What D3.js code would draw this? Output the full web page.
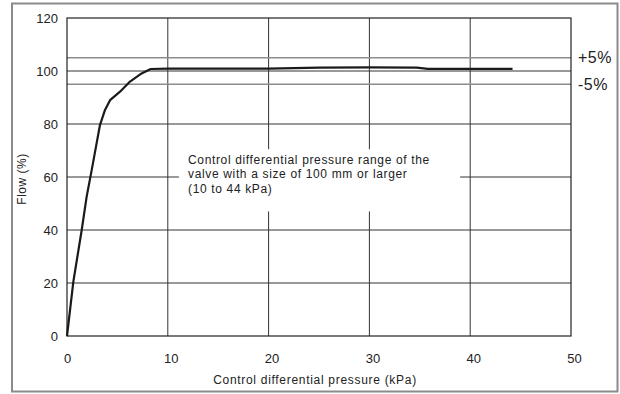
<!DOCTYPE html>
<html><head><meta charset="utf-8">
<script src="https://cdn.jsdelivr.net/npm/d3@7"></script>
<style>body{margin:0;background:#fff}svg{display:block}text{font-family:"Liberation Sans",Arial,sans-serif;fill:#222}</style>
</head><body><svg id="c" width="620" height="394"></svg>
<script>
const pressure = [0, 0.63, 1.46, 1.95, 2.45, 2.94, 3.27, 3.77, 4.27, 5.26, 6.25, 7.4, 8.3, 10, 20, 25, 30, 34.7, 35.8, 44.2];
const flow     = [0, 20.5, 40, 52.6, 62.6, 72.8, 79.6, 85.3, 89, 92.2, 96, 99.1, 100.75, 100.9, 100.9, 101.3, 101.4, 101.3, 100.8, 100.8];
const xTicks = [0, 10, 20, 30, 40, 50];
const yTicks = [0, 20, 40, 60, 80, 100, 120];
const tolLines = [105, 95];
const tolLabels = ["+5%", "-5%"];
const noteLines = ["Control differential pressure range of the", "valve with a size of 100 mm or larger", "(10 to 44 kPa)"];

const svg = d3.select("#c");
const L = 67, R = 571, T = 18, B = 336;
const x = d3.scaleLinear().domain([0, 50]).range([L, R]);
const y = d3.scaleLinear().domain([0, 120]).range([B, T]);

// outer frame
svg.append("rect").attr("x", 12).attr("y", 3.5).attr("width", 605.5).attr("height", 388)
  .attr("fill", "none").attr("stroke", "#8a8a8a").attr("stroke-width", 2);

// grid
const g = svg.append("g");
g.selectAll(".vg").data(xTicks.slice(1, -1)).join("line")
  .attr("x1", d => x(d)).attr("x2", d => x(d)).attr("y1", T).attr("y2", B)
  .attr("stroke", "#333").attr("stroke-width", 1);
g.selectAll(".hg").data(yTicks.slice(1, -1)).join("line")
  .attr("x1", L).attr("x2", R).attr("y1", d => y(d)).attr("y2", d => y(d))
  .attr("stroke", "#333").attr("stroke-width", 1);
g.selectAll(".tl").data(tolLines).join("line")
  .attr("x1", L).attr("x2", R).attr("y1", d => y(d)).attr("y2", d => y(d))
  .attr("stroke", "#8c8c8c").attr("stroke-width", 1.3);

// note box (white background interrupts the grid)
svg.append("rect").attr("x", x(11.1)).attr("y", y(70.5)).attr("width", x(39) - x(11.1)).attr("height", y(47) - y(70.5)).attr("fill", "#fff");
svg.append("g").selectAll("text").data(noteLines).join("text")
  .attr("x", 188).attr("y", (d, i) => 163.5 + i * 14.8)
  .attr("font-size", 12).attr("letter-spacing", 0.65).text(d => d);

// plot border
svg.append("rect").attr("x", L).attr("y", T).attr("width", R - L).attr("height", B - T)
  .attr("fill", "none").attr("stroke", "#222").attr("stroke-width", 1.2);

// axes labels
const ax = d3.axisBottom(x).tickValues(xTicks).tickSize(0).tickPadding(0);
const xa = svg.append("g").attr("transform", `translate(0,${B})`).call(ax);
xa.select(".domain").remove();
xa.selectAll("text").attr("y", 27).attr("dy", 0).attr("dx", d => d === 0 ? 0 : 3).attr("font-size", 13).attr("fill", "#222")
  .style("font-family", '"Liberation Sans",Arial,sans-serif');
const ay = d3.axisLeft(y).tickValues(yTicks).tickSize(0).tickPadding(9);
const ya = svg.append("g").attr("transform", `translate(${L},0)`).call(ay);
ya.select(".domain").remove();
ya.selectAll("text").attr("font-size", 13).attr("fill", "#222")
  .style("font-family", '"Liberation Sans",Arial,sans-serif');

svg.append("text").attr("x", 315).attr("y", 384).attr("text-anchor", "middle").attr("font-size", 12).attr("letter-spacing", 0.7)
  .text("Control differential pressure (kPa)");
svg.append("text").attr("transform", "translate(26,179) rotate(-90)").attr("text-anchor", "middle").attr("font-size", 12).attr("letter-spacing", 0.5)
  .text("Flow (%)");

// tolerance labels
svg.append("g").selectAll("text").data(tolLines).join("text")
  .attr("x", 578).attr("y", d => y(d) + 5.5).attr("font-size", 16).attr("letter-spacing", 0.5).text((d, i) => tolLabels[i]);

// curve
const pts = pressure.map((p, i) => [p, flow[i]]);
svg.append("path").datum(pts)
  .attr("d", d3.line().x(d => x(d[0])).y(d => y(d[1])))
  .attr("fill", "none").attr("stroke", "#1a1a1a").attr("stroke-width", 2.2).attr("stroke-linejoin", "round");
</script></body></html>
